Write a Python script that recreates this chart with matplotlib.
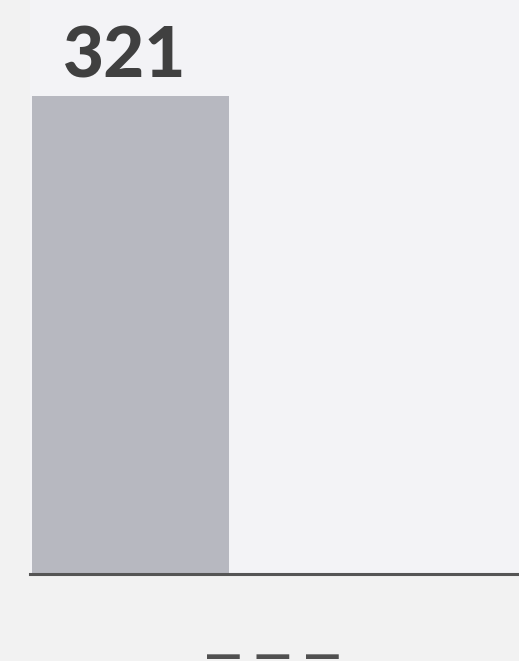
import matplotlib.pyplot as plt

# === DATA ===
categories = ["— — —"]
values = [321]
value_labels = ["321"]

BG = "#f2f2f2"
BAR = "#b7b8c0"
TEXT = "#404040"
AXIS = "#555555"

fig = plt.figure(figsize=(5.19, 6.61), dpi=100, facecolor=BG)
ax = fig.add_axes([30 / 519, 87 / 661, 489 / 519, 574 / 661])
ax.set_facecolor("#f3f3f6")

x = list(range(len(values)))
bars = ax.bar(x, values, width=1.0, color=BAR, align="center")

ax.set_xlim(-0.51, 1.97)
ax.set_ylim(0, 385.5)

for b, lab in zip(bars, value_labels):
    ax.annotate(lab, (b.get_x() + b.get_width() / 2 - 0.03, b.get_height()),
                xytext=(0, 13), textcoords="offset points",
                ha="center", va="baseline", fontsize=51,
                fontfamily="Lato", fontweight="black", color=TEXT)

# category label sits right of the bar centre in the original
ax.set_xticks([x[0] + 0.72])
ax.set_xticklabels(categories, fontsize=26.5, fontweight="bold",
                   color="#505050", fontfamily="DejaVu Sans")
ax.tick_params(axis="x", length=0, pad=46)
ax.set_yticks([])

for s in ["top", "right", "left"]:
    ax.spines[s].set_visible(False)
ax.spines["bottom"].set_color(AXIS)
ax.spines["bottom"].set_linewidth(2.2)

fig.savefig("out.png", dpi=100, facecolor=BG)
